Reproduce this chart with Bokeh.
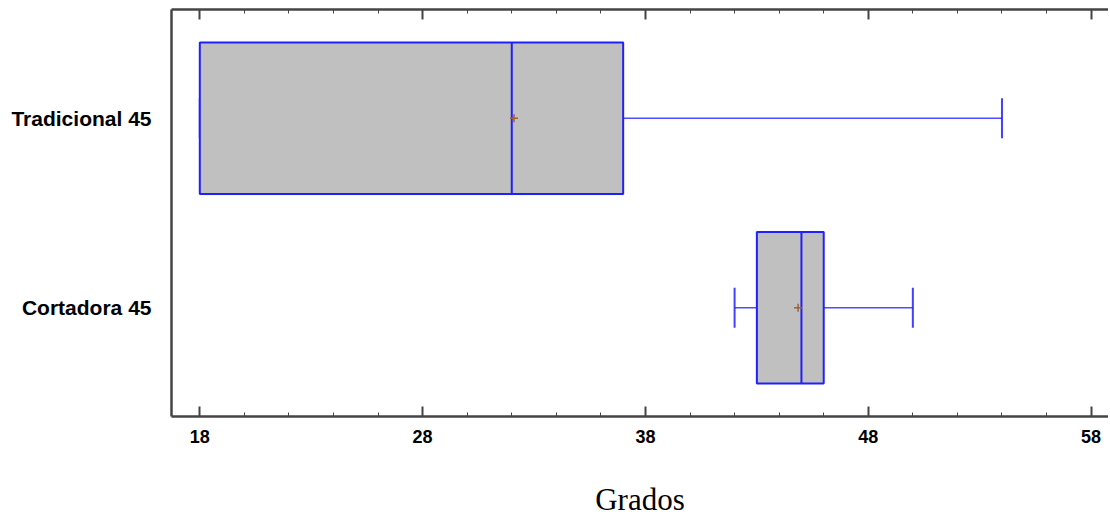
from bokeh.plotting import figure
from bokeh.models import FixedTicker, LinearAxis, Range1d
from bokeh.embed import file_html
from bokeh.resources import INLINE

# ---- data ----
groups = ["Cortadora 45", "Tradicional 45"]
mins = [42.0, 18.0]
q1s = [43.0, 18.0]
medians = [45.0, 32.0]
q3s = [46.0, 37.0]
maxs = [50.0, 54.0]
means = [44.85, 32.1]
x_ticks = [18, 28, 38, 48, 58]
x_minor = [20, 22, 24, 26, 30, 32, 34, 36, 40, 42, 44, 46, 50, 52, 54, 56]

ypos = list(range(len(groups)))
half = 0.4
cap = 0.105

p = figure(width=1108, height=519, output_backend="svg", toolbar_location=None,
           x_range=Range1d(16.73, 58.78), y_range=Range1d(-0.574, 1.574),
           min_border_left=171, min_border_right=0, min_border_top=9,
           min_border_bottom=0, x_axis_label="Grados")
p.xgrid.visible = False
p.ygrid.visible = False
p.outline_line_color = None

blue = "#2020FF"
# whiskers
p.segment(x0=mins, y0=ypos, x1=q1s, y1=ypos, line_color=blue, line_width=1.5, line_alpha=0.8)
p.segment(x0=q3s, y0=ypos, x1=maxs, y1=ypos, line_color=blue, line_width=1.5, line_alpha=0.8)
p.segment(x0=mins, y0=[y - cap for y in ypos], x1=mins, y1=[y + cap for y in ypos],
          line_color=blue, line_width=2, line_alpha=0.85)
p.segment(x0=maxs, y0=[y - cap for y in ypos], x1=maxs, y1=[y + cap for y in ypos],
          line_color=blue, line_width=2, line_alpha=0.85)
# boxes
p.quad(left=q1s, right=q3s, bottom=[y - half for y in ypos], top=[y + half for y in ypos],
       fill_color="#C0C0C0", line_color=blue, line_width=2)
# medians
p.segment(x0=medians, y0=[y - half for y in ypos], x1=medians, y1=[y + half for y in ypos],
          line_color=blue, line_width=2)
# means
p.scatter(x=means, y=ypos, marker="cross", size=8, line_color="#A0602A", line_width=1.5)

axis_col = "#444444"
# bottom axis
xa = p.xaxis[0]
xa.ticker = FixedTicker(ticks=x_ticks, minor_ticks=x_minor)
xa.axis_line_color = axis_col
xa.axis_line_width = 2.5
xa.major_tick_in = 10
xa.major_tick_out = 0
xa.minor_tick_in = 4
xa.minor_tick_out = 0
xa.major_tick_line_color = axis_col
xa.minor_tick_line_color = axis_col
xa.major_tick_line_width = 2
xa.major_label_text_font = "Liberation Sans"
xa.major_label_text_font_style = "bold"
xa.major_label_text_font_size = "18px"
xa.major_label_text_color = "black"
xa.major_label_standoff = 13
xa.axis_label_text_font = "Liberation Serif"
xa.axis_label_text_font_style = "normal"
xa.axis_label_text_font_size = "31px"
xa.axis_label_text_color = "black"
xa.axis_label_standoff = 36

# top axis as frame border (ticks only)
ta = LinearAxis(ticker=FixedTicker(ticks=x_ticks, minor_ticks=x_minor))
ta.axis_line_color = axis_col
ta.axis_line_width = 2.5
ta.major_tick_in = 10
ta.major_tick_out = 0
ta.minor_tick_in = 4
ta.minor_tick_out = 0
ta.major_tick_line_color = axis_col
ta.minor_tick_line_color = axis_col
ta.major_tick_line_width = 2
ta.major_label_overrides = {t: "" for t in x_ticks}
ta.major_label_standoff = 0
p.add_layout(ta, "above")

# left axis
ya = p.yaxis[0]
ya.ticker = FixedTicker(ticks=ypos)
ya.major_label_overrides = {i: g for i, g in zip(ypos, groups)}
ya.axis_line_color = axis_col
ya.axis_line_width = 2.5
ya.major_tick_in = 0
ya.major_tick_out = 0
ya.minor_tick_line_color = None
ya.major_label_text_font = "Liberation Sans"
ya.major_label_text_font_style = "bold"
ya.major_label_text_font_size = "21px"
ya.major_label_text_color = "black"
ya.major_label_standoff = 20

open("out.html", "w").write(file_html(p, INLINE))
